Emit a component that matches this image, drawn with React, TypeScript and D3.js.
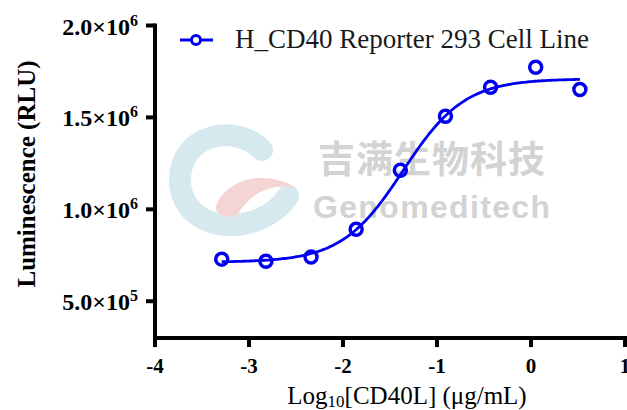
import React from "react";
import * as d3 from "d3";

const logConc = [-3.29, -2.82, -2.34, -1.86, -1.39, -0.91, -0.43, 0.05, 0.52];
const rlu = [729000, 718000, 740000, 892000, 1213000, 1506000, 1664000, 1773000, 1652000];
const seriesName = "H_CD40 Reporter 293 Cell Line";
const xTicks = [-4, -3, -2, -1, 0, 1];
const yTicks = [500000, 1000000, 1500000, 2000000];
// 4PL fit parameters
const fitBottom = 712000;
const fitTop = 1710000;
const fitLogEC50 = -1.36;
const fitHill = 1.33;

const W = 627;
const H = 410;
const BLUE = "#0000ee";
const SERIF = "'Liberation Serif', 'Times New Roman', serif";

function fmtTick(v: number) {
  const e = Math.floor(Math.log10(v));
  const m = v / Math.pow(10, e);
  return { mant: m.toFixed(1), exp: String(e) };
}

export default function App() {
  const x = d3.scaleLinear().domain([-4, 1]).range([155, 625]);
  const y = d3.scaleLinear().domain([300000, 2000000]).range([338, 25.5]);

  const fit = (lx: number) =>
    fitBottom + (fitTop - fitBottom) / (1 + Math.pow(10, (fitLogEC50 - lx) * fitHill));
  const xs = d3.range(0, 201).map((i) => logConc[0] + (i / 200) * (logConc[logConc.length - 1] - logConc[0]));
  const line = d3
    .line<number>()
    .x((d) => x(d))
    .y((d) => y(fit(d)))
    .curve(d3.curveLinear);

  return (
    <svg
      width={W}
      height={H}
      style={{ position: "absolute", left: 0, top: 0, background: "#fff" }}
      xmlns="http://www.w3.org/2000/svg"
    >
      <rect x={0} y={0} width={W} height={H} fill="#fff" />

      {/* watermark logo */}
      <g opacity={0.7}>
        <path
          d="M 262 150 C 238 124, 180 132, 180 180 C 180 214, 214 232, 248 223 C 268 218, 282 206, 288 196"
          fill="none"
          stroke="#c6e0e9"
          strokeWidth={22}
          strokeLinecap="round"
        />
        <path
          d="M 216 206 C 226 180, 262 168, 297 188 C 276 183, 252 190, 238 214 C 230 220, 214 216, 216 206 Z"
          fill="#f2c4c2"
        />
      </g>
      <text
        x={318}
        y={173}
        fontFamily="'Noto Sans CJK SC', sans-serif"
        fontWeight={700}
        fontSize={37}
        fill="#d3d3d3"
        textLength={227}
        lengthAdjust="spacing"
      >
        吉满生物科技
      </text>
      <text
        x={313}
        y={218}
        fontFamily="'Liberation Sans', Arial, sans-serif"
        fontWeight={700}
        fontSize={32}
        fill="#d3d3d3"
        textLength={237}
        lengthAdjust="spacing"
      >
        Genomeditech
      </text>

      {/* axes */}
      <g stroke="#000" strokeWidth={4} fill="none">
        <line x1={x(-4)} y1={y(2000000) - 2} x2={x(-4)} y2={y(300000) + 2} />
        <line x1={x(-4) - 2} y1={y(300000)} x2={W} y2={y(300000)} />
        {yTicks.map((t) => (
          <line key={t} x1={x(-4) - 9} x2={x(-4)} y1={y(t)} y2={y(t)} />
        ))}
        {xTicks.map((t) => (
          <line key={t} x1={x(t)} x2={x(t)} y1={y(300000)} y2={y(300000) + 9} />
        ))}
      </g>

      {/* y tick labels */}
      {yTicks.map((t) => {
        const f = fmtTick(t);
        return (
          <text
            key={t}
            x={138}
            y={y(t) + 9}
            textAnchor="end"
            fontFamily={SERIF}
            fontWeight={700}
            fontSize={24}
            fill="#000"
          >
            {f.mant}×10
            <tspan dy={-9} fontSize={16}>
              {f.exp}
            </tspan>
          </text>
        );
      })}

      {/* x tick labels */}
      {xTicks.map((t) => (
        <text
          key={t}
          x={x(t)}
          y={373}
          textAnchor="middle"
          fontFamily={SERIF}
          fontWeight={700}
          fontSize={21}
          fill="#000"
        >
          {t < 0 ? "-" + Math.abs(t) : String(t)}
        </text>
      ))}

      {/* axis titles */}
      <text
        transform="translate(35,174) rotate(-90)"
        textAnchor="middle"
        fontFamily={SERIF}
        fontWeight={700}
        fontSize={25}
        fill="#000"
      >
        Luminescence (RLU)
      </text>
      <text x={407} y={404} textAnchor="middle" fontFamily={SERIF} fontSize={25} fill="#000">
        Log
        <tspan fontSize={17} dy={3}>
          10
        </tspan>
        <tspan dy={-3}>[CD40L] (μg/mL)</tspan>
      </text>

      {/* fitted curve */}
      <path d={line(xs) || ""} fill="none" stroke={BLUE} strokeWidth={2.8} />

      {/* data points */}
      {logConc.map((lx, i) => (
        <circle key={i} cx={x(lx)} cy={y(rlu[i])} r={6} fill="none" stroke={BLUE} strokeWidth={3.5} />
      ))}

      {/* legend */}
      <line x1={180} x2={213} y1={40} y2={40} stroke={BLUE} strokeWidth={3} />
      <circle cx={196} cy={40} r={4.5} fill="#fff" stroke={BLUE} strokeWidth={3} />
      <text x={235} y={47.5} fontFamily={SERIF} fontSize={27} fill="#1a1a1a">
        {seriesName}
      </text>
    </svg>
  );
}
